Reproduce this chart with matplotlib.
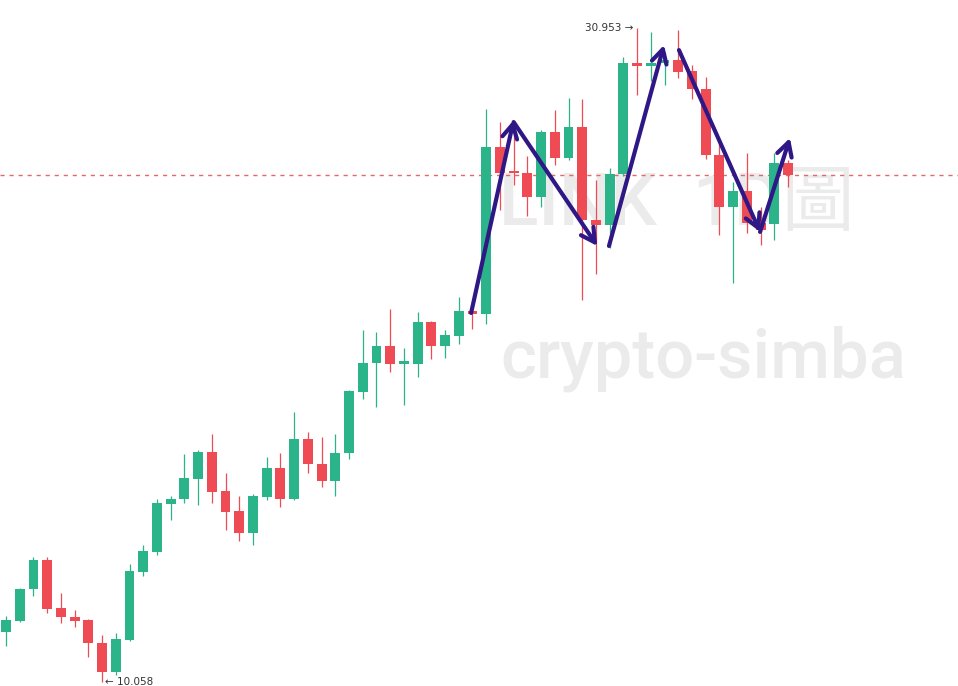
import matplotlib
matplotlib.use("Agg")
import matplotlib.pyplot as plt
import numpy as np

# daily candles, LINK
opens = [11.66, 12.01, 13.03, 13.96, 12.42, 12.14, 12.04, 11.30, 10.38, 11.40,
         13.57, 14.21, 15.75, 15.90, 16.54, 17.41, 16.16, 15.52, 14.82, 15.97,
         16.90, 15.90, 17.82, 17.02, 16.48, 17.38, 19.32, 20.25, 20.79, 20.22,
         20.22, 21.56, 20.79, 21.11, 21.91, 21.82, 27.15, 26.38, 26.32, 25.55,
         27.63, 26.80, 27.79, 24.82, 24.66, 26.29, 29.84, 29.74, 29.84, 29.93,
         29.58, 29.00, 26.90, 25.23, 25.75, 24.72, 24.69, 26.64]
highs = [12.17, 13.06, 14.05, 14.05, 12.90, 12.36, 12.07, 11.56, 11.62, 13.83,
         14.44, 15.90, 16.00, 17.34, 17.47, 17.98, 16.74, 16.00, 16.07, 17.25,
         17.38, 18.69, 18.05, 17.89, 17.98, 19.39, 21.30, 21.24, 21.98, 20.73,
         21.88, 21.59, 21.30, 22.36, 21.94, 28.37, 27.95, 27.60, 26.86, 27.69,
         28.33, 28.72, 28.69, 26.10, 26.48, 30.03, 30.953, 30.83, 30.19, 30.89,
         29.77, 29.39, 27.28, 26.03, 26.96, 25.23, 26.96, 26.74]
lows = [11.21, 11.98, 12.81, 12.26, 11.94, 11.82, 10.86, 10.058, 10.28, 11.37,
        13.44, 14.12, 15.23, 15.78, 15.71, 15.78, 14.91, 14.56, 14.44, 15.87,
        15.65, 15.87, 16.74, 16.29, 16.00, 17.18, 19.10, 18.84, 19.96, 18.91,
        19.80, 20.38, 20.41, 20.86, 21.34, 21.50, 25.14, 25.94, 24.95, 25.23,
        26.58, 26.74, 22.26, 23.09, 23.92, 26.23, 28.81, 29.26, 29.13, 29.36,
        28.69, 26.77, 24.34, 22.81, 24.40, 24.02, 24.18, 25.87]
closes = [12.04, 13.03, 13.96, 12.39, 12.14, 12.01, 11.30, 10.38, 11.43, 13.60,
          14.24, 15.78, 15.90, 16.58, 17.41, 16.13, 15.49, 14.82, 16.00, 16.90,
          15.90, 17.82, 17.02, 16.48, 17.38, 19.36, 20.25, 20.79, 20.22, 20.25,
          21.56, 20.79, 21.15, 21.91, 21.82, 27.15, 26.32, 26.32, 25.55, 27.63,
          26.80, 27.79, 24.82, 24.66, 26.29, 29.84, 29.74, 29.84, 29.90, 29.55,
          29.00, 26.90, 25.23, 25.75, 24.72, 24.50, 26.64, 26.26]

high_label = "30.953"
low_label = "10.058"

# hand drawn zig-zag arrows (candle index, price)
arrow_segments = [((33.9, 21.85), (37.0, 28.01)),
                  ((37.0, 27.95), (43.1, 23.99)),
                  ((43.95, 23.99), (47.96, 30.41)),
                  ((49.05, 30.25), (54.96, 24.44)),
                  ((54.96, 24.44), (57.14, 27.44))]

green = "#2bb48a"
red = "#ef4b55"
arrow_color = "#2f1886"
wm_color = "#ebebeb"

fig = plt.figure(figsize=(9.58, 6.86), dpi=100)
ax = fig.add_axes([0, 0, 1, 1])
ax.set_xlim(-0.44, 69.39)
ax.set_ylim(9.93, 31.85)
ax.axis("off")

# watermark
ax.text(35.9, 24.66, "LINK  1D圖", fontsize=52.5, fontweight="medium", color=wm_color,
        ha="left", va="baseline", family=["Roboto", "Noto Sans CJK TC"], zorder=0)
ax.text(36.0, 19.80, "crypto-simba", fontsize=49.5, fontweight="medium", color=wm_color,
        ha="left", va="baseline", family=["Roboto", "DejaVu Sans"], zorder=0)

x = np.arange(len(opens))
o = np.array(opens)
c = np.array(closes)
cols = [green if cc >= oo else red for oo, cc in zip(opens, closes)]
ax.vlines(x, lows, highs, colors=cols, linewidth=0.9, zorder=2)
body_h = np.maximum(np.abs(c - o), 0.08)
ax.bar(x, body_h, bottom=np.minimum(o, c), width=0.72, color=cols, linewidth=0, zorder=3)

# last price line
ax.axhline(closes[-1], color="#e06a6a", linestyle=(0, (3, 3.5)), linewidth=1.0, zorder=1)

# extreme labels
ih = int(np.argmax(highs))
il = int(np.argmin(lows))
ax.text(ih - 0.3, highs[ih], high_label + " \u2192", fontsize=7.5, color="#333333",
        ha="right", va="center", zorder=4)
ax.text(il + 0.25, lows[il], "\u2190 " + low_label, fontsize=7.5, color="#333333",
        ha="left", va="center", zorder=4)

for start, end in arrow_segments:
    ax.annotate("", xy=end, xytext=start,
                arrowprops=dict(arrowstyle="->,head_length=0.55,head_width=0.3",
                                color=arrow_color, lw=3, mutation_scale=18,
                                shrinkA=0, shrinkB=0), zorder=5)

fig.savefig("out.png", dpi=100)
